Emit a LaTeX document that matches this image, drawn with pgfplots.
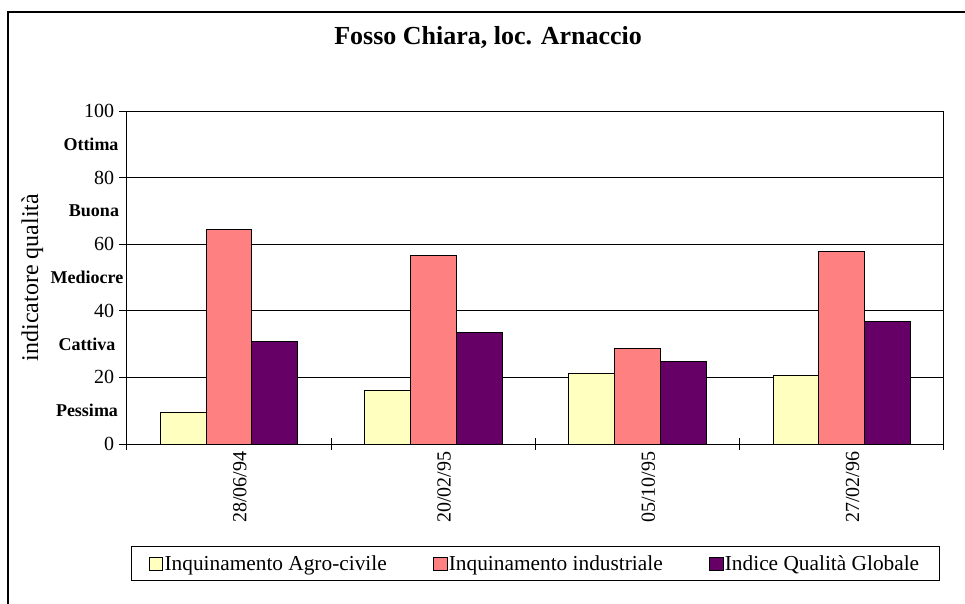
\documentclass[border=0pt]{standalone}
\usepackage{fontspec}
\setmainfont{Liberation Serif}
\usepackage{pgfplots}
\pgfplotsset{compat=1.18}
\definecolor{agro}{HTML}{FFFFC0}
\definecolor{indu}{HTML}{FF8080}
\definecolor{iqg}{HTML}{660066}
\newcommand{\fs}[1]{\fontsize{#1}{1.2\dimexpr#1\relax}\selectfont}
\begin{document}
\begin{tikzpicture}
\begin{scope}[x=0.75pt,y=-0.75pt]
\useasboundingbox (0,0) rectangle (965,604);
\draw[line width=1.5pt] (8,620) -- (8,12) -- (980,12);
\coordinate (ax) at (127,444);
\end{scope}
\begin{axis}[
  at={(ax)}, anchor=south west,
  scale only axis, width=612.75pt, height=249.75pt,
  clip=false,
  xmin=-0.5, xmax=3.5, ymin=0, ymax=100,
  ybar=0pt, bar width=0.224,
  axis line style={line width=0.75pt},
  tick align=center,
  xtick pos=bottom, ytick pos=left,
  xtick={0,1,2,3},
  xticklabels={28/06/94,20/02/95,05/10/95,27/02/96},
  major x tick style={draw=none},
  minor xtick={-0.5,0.5,1.5,2.5,3.5},
  minor tick length=9pt,
  minor x tick style={line width=0.75pt, black},
  x tick label style={rotate=90, anchor=east, yshift=-8pt, font=\fs{15pt}},
  ytick={0,20,40,60,80,100},
  yticklabels={0,20,40,60,80,100},
  ytick style={/pgfplots/major tick length=12pt, line width=0.75pt, black},
  y tick label style={font=\fs{15pt}, xshift=-4pt},
  ymajorgrids,
  major grid style={black, line width=0.75pt},
  ylabel={indicatore qualità},
  ylabel style={at={(axis description cs:-0.116,0.5)}, anchor=center, font=\fs{18pt}},
  title={Fosso Chiara, loc. Arnaccio},
  title style={at={(axis description cs:0.442,1.198)}, anchor=center, font=\fs{19.5pt}\bfseries},
  legend columns=3,
  legend style={at={(axis description cs:0.5,-0.36)}, anchor=center, draw=black, line width=0.75pt,
    font=\fs{16pt}, inner xsep=13pt, inner ysep=4.5pt,
    /tikz/every even column/.append style={column sep=33pt},
    /tikz/every odd column/.append style={column sep=-1pt}},
  every axis plot post/.append style={/pgfplots/legend image code/.code={\draw[##1,draw=black,line width=0.6pt] (0pt,-5pt) rectangle (10pt,5pt);}},
]
\addplot[fill=agro, draw=black, line width=0.75pt] coordinates {(0,9.4) (1,16.2) (2,21.3) (3,20.6)};
\addplot[fill=indu, draw=black, line width=0.75pt] coordinates {(0,64.5) (1,56.7) (2,28.8) (3,57.8)};
\addplot[fill=iqg, draw=black, line width=0.75pt] coordinates {(0,30.7) (1,33.5) (2,24.9) (3,36.8)};
\legend{Inquinamento Agro-civile,Inquinamento industriale,Indice Qualità Globale}
\node[font=\fs{13.5pt}\bfseries, xshift=-27pt] at (axis cs:-0.5,90) {Ottima};
\node[font=\fs{13.5pt}\bfseries, xshift=-24.75pt] at (axis cs:-0.5,70) {Buona};
\node[font=\fs{13.5pt}\bfseries, xshift=-30pt] at (axis cs:-0.5,50) {Mediocre};
\node[font=\fs{13.5pt}\bfseries, xshift=-30pt] at (axis cs:-0.5,30) {Cattiva};
\node[font=\fs{13.5pt}\bfseries, xshift=-30pt] at (axis cs:-0.5,10) {Pessima};
\end{axis}
\end{tikzpicture}
\end{document}
